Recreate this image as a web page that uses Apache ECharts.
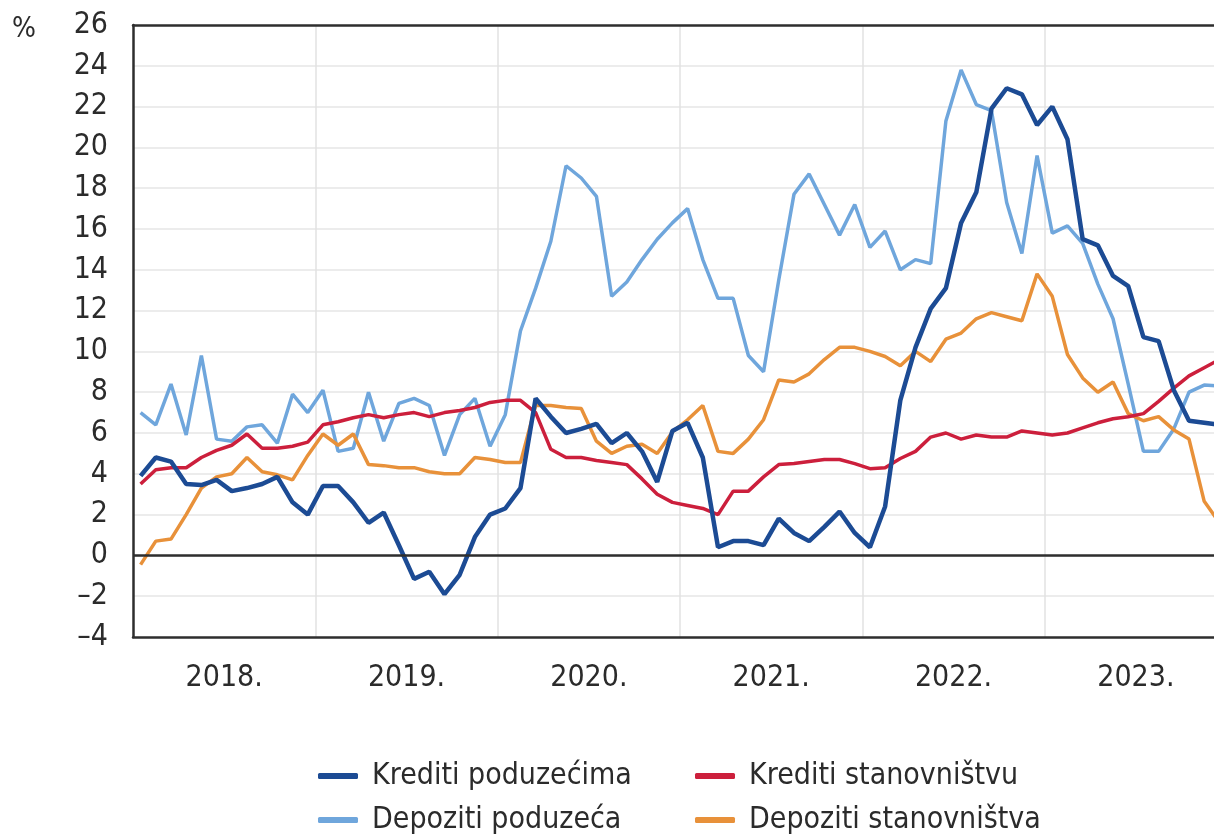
<!DOCTYPE html>
<html>
<head>
<meta charset="utf-8">
<script src="https://cdn.jsdelivr.net/npm/echarts@6/dist/echarts.min.js"></script>
<style>
  html, body { margin: 0; padding: 0; background: #fff; overflow: hidden; }
  #myCharts { width: 1240px; height: 838px; }
</style>
</head>
<body>
<div id="myCharts"></div>
<script>
// godine (oznake na osi x), 12 mjeseci po godini
const years = ["2018.", "2019.", "2020.", "2021.", "2022.", "2023."];

const kreditiPoduzecima = [
  3.9, 4.8, 4.6, 3.5, 3.45, 3.7, 3.15, 3.3, 3.5, 3.85, 2.6, 2.0,
  3.4, 3.4, 2.6, 1.6, 2.1, 0.5, -1.15, -0.8, -1.9, -0.95, 0.9, 2.0,
  2.3, 3.3, 7.7, 6.8, 6.0, 6.2, 6.45, 5.5, 6.0, 5.1, 3.6, 6.1,
  6.5, 4.8, 0.4, 0.7, 0.7, 0.5, 1.8, 1.1, 0.7, 1.4, 2.15, 1.1,
  0.4, 2.4, 7.6, 10.2, 12.1, 13.1, 16.3, 17.8, 21.9, 22.9, 22.6, 21.1,
  22.0, 20.4, 15.5, 15.2, 13.7, 13.2, 10.7, 10.5, 8.1, 6.6, 6.5, 6.4
];
const kreditiStanovnistvu = [
  3.5, 4.2, 4.3, 4.3, 4.8, 5.15, 5.4, 5.95, 5.25, 5.25, 5.35, 5.55,
  6.4, 6.55, 6.75, 6.9, 6.75, 6.9, 7.0, 6.8, 7.0, 7.1, 7.25, 7.5,
  7.6, 7.6, 7.0, 5.2, 4.8, 4.8, 4.65, 4.55, 4.45, 3.75, 3.0, 2.6,
  2.45, 2.3, 2.0, 3.15, 3.15, 3.85, 4.45, 4.5, 4.6, 4.7, 4.7, 4.5,
  4.25, 4.3, 4.75, 5.1, 5.8, 6.0, 5.7, 5.9, 5.8, 5.8, 6.1, 6.0,
  5.9, 6.0, 6.25, 6.5, 6.7, 6.8, 6.95, 7.55, 8.2, 8.8, 9.2, 9.6
];
const depozitiPoduzeca = [
  7.0, 6.4, 8.4, 5.9, 9.8, 5.7, 5.6, 6.3, 6.4, 5.5, 7.9, 7.0,
  8.1, 5.1, 5.25, 8.0, 5.6, 7.45, 7.7, 7.35, 4.9, 6.9, 7.7, 5.35,
  6.9, 11.0, 13.1, 15.4, 19.1, 18.5, 17.6, 12.7, 13.4, 14.5, 15.5, 16.3,
  17.0, 14.5, 12.6, 12.6, 9.8, 9.0, 13.5, 17.7, 18.7, 17.2, 15.7, 17.2,
  15.1, 15.9, 14.0, 14.5, 14.3, 21.3, 23.8, 22.1, 21.8, 17.3, 14.8, 19.6,
  15.8, 16.15, 15.3, 13.3, 11.6, 8.4, 5.1, 5.1, 6.2, 8.0, 8.35, 8.3
];
const depozitiStanovnistva = [
  -0.45, 0.7, 0.8, 2.0, 3.3, 3.85, 4.0, 4.8, 4.1, 3.95, 3.7, 4.9,
  5.95, 5.4, 5.95, 4.45, 4.4, 4.3, 4.3, 4.1, 4.0, 4.0, 4.8, 4.7,
  4.55, 4.55, 7.35, 7.35, 7.25, 7.2, 5.6, 5.0, 5.35, 5.45, 5.0, 6.05,
  6.65, 7.35, 5.1, 5.0, 5.7, 6.65, 8.6, 8.5, 8.9, 9.6, 10.2, 10.2,
  10.0, 9.75, 9.3, 10.0, 9.5, 10.6, 10.9, 11.6, 11.9, 11.7, 11.5, 13.8,
  12.7, 9.85, 8.7, 8.0, 8.5, 6.95, 6.6, 6.8, 6.15, 5.7, 2.65, 1.6
];

const FONT = '"Liberation Sans Narrow", "DejaVu Sans Condensed", "Liberation Sans", sans-serif';
const TEXT = "#2b2b2b";
const FRAME = "#2e2e2e";

// mjesec i -> sredina mjeseca na osi
function toPoints(arr) {
  return arr.map(function (v, i) { return [i + 0.5, v]; });
}

// jedna stavka legende (raspored 2 x 2)
function legendItem(name, left, top) {
  return {
    left: left,
    top: top,
    padding: 0,
    itemWidth: 40,
    itemHeight: 6,
    icon: "roundRect",
    data: [name],
    textStyle: { fontFamily: FONT, fontSize: 30, lineHeight: 34, color: TEXT, padding: [0, 0, 0, 9] }
  };
}

const myCharts = echarts.init(document.getElementById("myCharts"));
let options = {
  animation: false,
  grid: {
    left: 133,
    top: 25,
    right: 13,
    bottom: 201
  },
  graphic: [
    {
      type: "text",
      left: 12,
      top: 16,
      style: { text: "%", font: "28px " + FONT, fill: TEXT }
    }
  ],
  legend: [
    legendItem("Krediti poduzećima", 318, 759),
    legendItem("Depoziti poduzeća", 318, 803),
    legendItem("Krediti stanovništvu", 695, 759),
    legendItem("Depoziti stanovništva", 695, 803)
  ],
  xAxis: [
    {
      type: "value",
      min: 0,
      max: 72,
      interval: 6,
      axisLine: { show: true, onZero: false, lineStyle: { color: FRAME, width: 2.5 } },
      axisTick: { show: false },
      splitLine: { show: false },
      axisLabel: {
        margin: 26,
        fontFamily: FONT,
        fontSize: 30,
        color: TEXT,
        formatter: function (v) {
          return v % 12 === 6 ? years[(v - 6) / 12] : "";
        }
      }
    },
    {
      // okomite linije mreže na granicama godina + gornji rub okvira
      type: "value",
      min: 0,
      max: 72,
      interval: 12,
      position: "top",
      axisLine: { show: true, onZero: false, lineStyle: { color: FRAME, width: 2.5 } },
      axisTick: { show: false },
      axisLabel: { show: false },
      splitLine: {
        show: true,
        showMinLine: false,
        showMaxLine: false,
        lineStyle: { color: "#e2e2e2", width: 1.5 }
      }
    }
  ],
  yAxis: {
    type: "value",
    min: -4,
    max: 26,
    interval: 2,
    axisLine: { show: true, lineStyle: { color: FRAME, width: 2.5 } },
    axisTick: { show: false },
    axisLabel: {
      margin: 25,
      fontFamily: FONT,
      fontSize: 30,
      color: TEXT,
      formatter: function (v) {
        return v < 0 ? "–" + Math.abs(v) : String(v);
      }
    },
    splitLine: {
      show: true,
      showMinLine: false,
      showMaxLine: false,
      lineStyle: { color: "#e6e6e6", width: 1.5 }
    }
  },
  series: [
    {
      name: "Depoziti poduzeća",
      type: "line",
      data: toPoints(depozitiPoduzeca),
      showSymbol: false,
      color: "#6fa6dc",
      lineStyle: { width: 3.5, color: "#6fa6dc" },
      markLine: {
        silent: true,
        symbol: "none",
        label: { show: false },
        lineStyle: { color: FRAME, width: 2.5, type: "solid" },
        data: [{ yAxis: 0 }]
      }
    },
    {
      name: "Depoziti stanovništva",
      type: "line",
      data: toPoints(depozitiStanovnistva),
      showSymbol: false,
      color: "#e8913a",
      lineStyle: { width: 3.5, color: "#e8913a" }
    },
    {
      name: "Krediti stanovništvu",
      type: "line",
      data: toPoints(kreditiStanovnistvu),
      showSymbol: false,
      color: "#cc1f3c",
      lineStyle: { width: 3.5, color: "#cc1f3c" }
    },
    {
      name: "Krediti poduzećima",
      type: "line",
      data: toPoints(kreditiPoduzecima),
      showSymbol: false,
      color: "#1c4b94",
      lineStyle: { width: 4.5, color: "#1c4b94" }
    }
  ]
};
myCharts.setOption(options);
</script>
</body>
</html>
